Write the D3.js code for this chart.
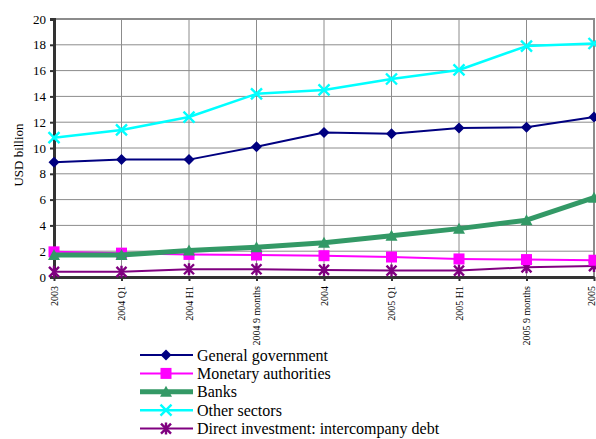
<!DOCTYPE html>
<html>
<head>
<meta charset="utf-8">
<script src="https://cdn.jsdelivr.net/npm/d3@7"></script>
<style>
  html, body { margin: 0; padding: 0; background: #fff; }
  svg { display: block; }
  svg text { font-family: "Liberation Serif", "Times New Roman", serif; fill: #000; }
</style>
</head>
<body>
<svg id="chart" width="596" height="439"></svg>
<script>
// Period labels along the x axis
const periods = ["2003", "2004 Q1", "2004 H1", "2004 9 months", "2004", "2005 Q1", "2005 H1", "2005 9 months", "2005"];

// External debt by sector, USD billion
const generalGovernment = [8.9, 9.1, 9.1, 10.1, 11.2, 11.1, 11.55, 11.6, 12.4];
const monetaryAuthorities = [1.95, 1.85, 1.75, 1.7, 1.65, 1.55, 1.4, 1.35, 1.3];
const banks = [1.7, 1.7, 2.05, 2.3, 2.65, 3.2, 3.75, 4.4, 6.15];
const otherSectors = [10.8, 11.4, 12.4, 14.2, 14.5, 15.35, 16.05, 17.9, 18.1];
const directInvestment = [0.4, 0.4, 0.6, 0.6, 0.55, 0.5, 0.5, 0.75, 0.85];

const yTicks = [0, 2, 4, 6, 8, 10, 12, 14, 16, 18, 20];

const series = [
  { name: "General government", values: generalGovernment, color: "#000080", width: 2, symbol: "diamond", size: 9 },
  { name: "Monetary authorities", values: monetaryAuthorities, color: "#FF00FF", width: 2, symbol: "square", size: 11 },
  { name: "Banks", values: banks, color: "#339966", width: 5, symbol: "triangle", size: 10 },
  { name: "Other sectors", values: otherSectors, color: "#00FFFF", width: 2.5, symbol: "x", size: 11 },
  { name: "Direct investment: intercompany debt", values: directInvestment, color: "#800080", width: 2, symbol: "star", size: 10 }
];

const svg = d3.select("#chart");
const plotLeft = 54, plotRight = 594, plotTop = 19, plotBottom = 277;

const x = d3.scalePoint().domain(periods).range([plotLeft, plotRight]);
const y = d3.scaleLinear().domain([0, 20]).range([plotBottom, plotTop]);

// Marker drawing in local coordinates centered at 0,0
function drawMarker(g, type, s, color) {
  const h = s / 2;
  if (type === "diamond") {
    g.append("path").attr("d", `M0,${-h - 1}L${h + 1},0L0,${h + 1}L${-h - 1},0Z`).attr("fill", color);
  } else if (type === "square") {
    g.append("rect").attr("x", -h).attr("y", -h).attr("width", s).attr("height", s).attr("fill", color);
  } else if (type === "triangle") {
    g.append("path").attr("d", `M0,${-h - 1}L${h + 1},${h}L${-h - 1},${h}Z`).attr("fill", color);
  } else if (type === "x") {
    g.append("path").attr("d", `M${-h},${-h}L${h},${h}M${h},${-h}L${-h},${h}`)
      .attr("stroke", color).attr("stroke-width", 2.4).attr("fill", "none");
  } else if (type === "star") {
    g.append("path").attr("d", `M${-h},${-h}L${h},${h}M${h},${-h}L${-h},${h}M0,${-h - 1}L0,${h + 1}`)
      .attr("stroke", color).attr("stroke-width", 2.4).attr("fill", "none");
  }
}

// Gridlines
const grid = svg.append("g");
grid.selectAll("line.h").data(yTicks.filter(d => d > 0)).join("line")
  .attr("x1", plotLeft).attr("x2", plotRight)
  .attr("y1", d => y(d)).attr("y2", d => y(d))
  .attr("stroke", "#8c8c8c").attr("stroke-width", 1);
grid.selectAll("line.v").data(periods.slice(1)).join("line")
  .attr("x1", d => x(d)).attr("x2", d => x(d))
  .attr("y1", plotTop).attr("y2", plotBottom)
  .attr("stroke", "#8c8c8c").attr("stroke-width", 1);
// Plot border (top and right)
svg.append("path").attr("d", `M${plotLeft},${plotTop}L${plotRight},${plotTop}L${plotRight},${plotBottom}`)
  .attr("fill", "none").attr("stroke", "#8c8c8c").attr("stroke-width", 2);

// Y axis
const yAxis = svg.append("g").attr("transform", `translate(${plotLeft},0)`)
  .call(d3.axisLeft(y).tickValues(yTicks).tickSize(4).tickPadding(4).tickFormat(d3.format("d")));
yAxis.attr("font-family", null);
yAxis.select(".domain").attr("stroke", "#333").attr("stroke-width", 3);
yAxis.selectAll(".tick line").attr("stroke", "#333").attr("stroke-width", 2);
yAxis.selectAll(".tick text").attr("font-size", 13);

// X axis
const xAxis = svg.append("g").attr("transform", `translate(0,${plotBottom})`)
  .call(d3.axisBottom(x).tickSize(4).tickSizeOuter(0));
xAxis.attr("font-family", null);
xAxis.select(".domain").attr("stroke", "#333").attr("stroke-width", 3);
xAxis.selectAll(".tick line").attr("stroke", "#333").attr("stroke-width", 2);
// the last label sits at the right edge; pull it in so it stays on the page
xAxis.selectAll(".tick text")
  .attr("font-size", 10)
  .attr("text-anchor", "end").attr("dy", "0.33em")
  .attr("transform", (d, i, n) => `translate(${i === n.length - 1 ? -3 : 0},9) rotate(-90)`)
  .attr("x", 0).attr("y", 0);

// Y axis title
svg.append("text")
  .attr("transform", "translate(23,155) rotate(-90)")
  .attr("text-anchor", "middle").attr("font-size", 13)
  .text("USD billion");

// Series lines and markers
const order = [4, 1, 2, 0, 3];
order.forEach(i => {
  const s = series[i];
  const line = d3.line().x((d, j) => x(periods[j])).y(d => y(d));
  svg.append("path").datum(s.values).attr("d", line)
    .attr("fill", "none").attr("stroke", s.color).attr("stroke-width", s.width)
    .attr("stroke-linejoin", "round");
  s.values.forEach((v, j) => {
    const g = svg.append("g").attr("transform", `translate(${x(periods[j])},${y(v)})`);
    drawMarker(g, s.symbol, s.size, s.color);
  });
});

// Legend
const legend = svg.append("g").attr("transform", "translate(140,355)");
series.forEach((s, i) => {
  const row = legend.append("g").attr("transform", `translate(0,${i * 18.4})`);
  row.append("line").attr("x1", 0).attr("x2", 53).attr("y1", 0).attr("y2", 0)
    .attr("stroke", s.color).attr("stroke-width", s.width);
  const m = row.append("g").attr("transform", "translate(26,0)");
  drawMarker(m, s.symbol, s.size, s.color);
  row.append("text").attr("x", 57).attr("y", 0).attr("dy", "0.35em")
    .attr("font-size", 16).text(s.name);
});
</script>
</body>
</html>
